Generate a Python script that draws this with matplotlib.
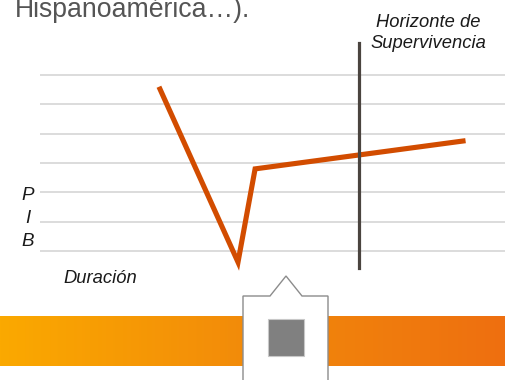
import matplotlib
matplotlib.use("Agg")
import matplotlib.pyplot as plt
from matplotlib.patches import Polygon, Rectangle
from matplotlib.colors import LinearSegmentedColormap
import numpy as np

plt.rcParams['font.family'] = ['Liberation Sans', 'DejaVu Sans']

# crisis path: time (duration units) vs GDP level
t = [4.0, 6.6, 7.17, 14.1]
pib = [5.52, -0.38, 2.8, 3.75]
horizonte = 10.63          # survival horizon
grid_levels = [0, 1, 2, 3, 4, 5, 6]

W, H = 505, 380
fig = plt.figure(figsize=(W / 100, H / 100), dpi=100)
fig.patch.set_facecolor("white")

# main chart area, 30 px per time unit, ~29.3 px per level
px_unit_y = 29.33
top_px, bot_px = 35, 275
ax = fig.add_axes([40 / W, 1 - bot_px / H, 1 - 40 / W, (bot_px - top_px) / H])
ax.set_xlim(0, (W - 40) / 30)
ax.set_ylim((251 - bot_px) / px_unit_y, (251 - top_px) / px_unit_y)
ax.axis("off")

for g in grid_levels:
    ax.axhline(g, color="#d9d9d9", lw=1.3, zorder=1)

ax.plot(t, pib, color="#d24c00", lw=3.7, solid_joinstyle="miter", zorder=3)
ax.plot([horizonte, horizonte], [-0.58, 7.09], color="#4a443f", lw=2.3, zorder=4)

# overlay in pixel coordinates for the decorations and labels
ov = fig.add_axes([0, 0, 1, 1])
ov.set_xlim(0, W)
ov.set_ylim(H, 0)
ov.axis("off")
ov.patch.set_alpha(0)

# orange gradient band
cmap = LinearSegmentedColormap.from_list("band", ["#fba900", "#f28a0a", "#ee6f10"])
grad = np.linspace(0, 1, 256).reshape(1, -1)
ov.imshow(grad, cmap=cmap, aspect="auto", extent=[0, W, 366, 316], zorder=1)

# callout box with pointer
box = Polygon([(243, 381), (243, 296), (270, 296), (286, 276), (302, 296),
               (328, 296), (328, 381)], closed=True,
              facecolor="white", edgecolor="#8c8c8c", lw=1.0, zorder=2)
ov.add_patch(box)
ov.add_patch(Rectangle((268, 319), 36, 37, facecolor="#808080",
                       edgecolor="#c8c8c8", lw=0.8, zorder=3))

ov.set_xlim(0, W)
ov.set_ylim(H, 0)

ov.text(15, 17, "Hispanoamérica…).", fontsize=19.2, color="#555555",
        ha="left", va="baseline")
ov.text(428, 27, "Horizonte de", fontsize=13.2, style="italic",
        color="#1a1a1a", ha="center", va="baseline")
ov.text(428, 48, "Supervivencia", fontsize=13.2, style="italic",
        color="#1a1a1a", ha="center", va="baseline")
for letra, yb in zip(["P", "I", "B"], [200.5, 223, 246]):
    ov.text(28, yb, letra, fontsize=13.5, style="italic", color="#1a1a1a",
            ha="center", va="baseline")
ov.text(63, 283, "Duración", fontsize=13.2, style="italic", color="#1a1a1a",
        ha="left", va="baseline")

fig.savefig("out.png", dpi=100)
